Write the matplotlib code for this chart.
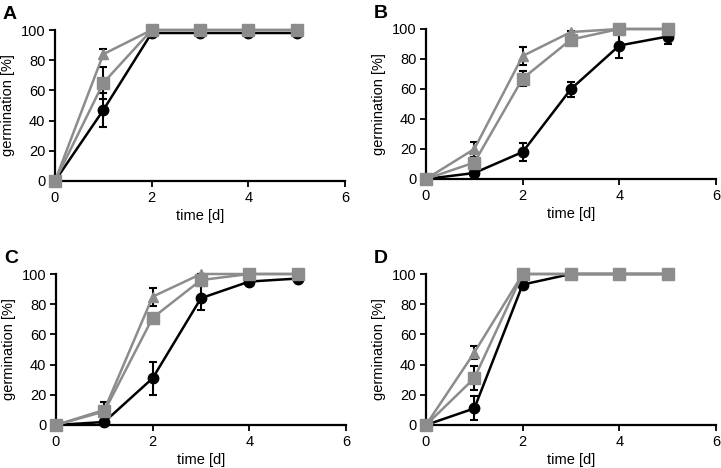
import numpy as np
import matplotlib.pyplot as plt

plt.rcParams['font.family'] = ['Liberation Sans', 'DejaVu Sans']

days = [0, 1, 2, 3, 4, 5]

# panel A
a_circ = [0, 47, 98, 98, 98, 98]
a_circ_err = [0, 11, 1, 1, 1, 1]
a_tri = [0, 84, 100, 100, 100, 100]
a_tri_err = [0, 3.5, 0, 0, 0, 0]
a_sq = [0, 65, 100, 100, 100, 100]
a_sq_err = [0, 10.5, 0, 0, 0, 0]

# panel B
b_circ = [0, 4, 18, 60, 89, 95]
b_circ_err = [0, 2, 6, 5, 8, 5]
b_tri = [0, 20, 82, 98, 100, 100]
b_tri_err = [0, 5, 6, 1, 0, 0]
b_sq = [0, 11, 67, 93, 100, 100]
b_sq_err = [0, 3, 5, 1, 0, 0]

# panel C
c_circ = [0, 2, 31, 84, 95, 97]
c_circ_err = [0, 1, 11, 8, 2, 1]
c_tri = [0, 10, 85, 100, 100, 100]
c_tri_err = [0, 5, 6, 0, 0, 0]
c_sq = [0, 9, 71, 96, 100, 100]
c_sq_err = [0, 2, 2, 3, 0, 0]

# panel D
d_circ = [0, 11, 93, 100, 100, 100]
d_circ_err = [0, 8, 3, 0, 0, 0]
d_tri = [0, 48, 100, 100, 100, 100]
d_tri_err = [0, 4, 0, 0, 0, 0]
d_sq = [0, 31, 100, 100, 100, 100]
d_sq_err = [0, 8, 0, 0, 0, 0]

panels = [
    ('A', a_circ, a_circ_err, a_tri, a_tri_err, a_sq, a_sq_err),
    ('B', b_circ, b_circ_err, b_tri, b_tri_err, b_sq, b_sq_err),
    ('C', c_circ, c_circ_err, c_tri, c_tri_err, c_sq, c_sq_err),
    ('D', d_circ, d_circ_err, d_tri, d_tri_err, d_sq, d_sq_err),
]

W, H = 721, 468
# axes boxes in pixels: left, top(y=100), right(x=6), bottom(y=0)
boxes = [(55, 30, 345, 181), (426, 29, 716, 179),
         (56, 274, 346, 425), (426, 274, 716, 425)]

grey = '#8c8c8c'
fig = plt.figure(figsize=(W / 100, H / 100), dpi=100)

for (lab, yc, ec, yt, et, ys, es), (l, t, r, b) in zip(panels, boxes):
    ax = fig.add_axes([l / W, 1 - b / H, (r - l) / W, (b - t) / H])
    for y, e, col, mk, ms in [(yc, ec, 'black', 'o', 7.5),
                              (yt, et, grey, '^', 7.5),
                              (ys, es, grey, 's', 8)]:
        ax.errorbar(days, y, yerr=e, color=col, ecolor='black', lw=1.8,
                    marker=mk, ms=ms, mec=col, capsize=3, capthick=1.5,
                    elinewidth=1.5, clip_on=False, zorder=3)
    ax.set_xlim(0, 6)
    ax.set_ylim(0, 100)
    ax.set_xticks([0, 2, 4, 6])
    ax.set_yticks([0, 20, 40, 60, 80, 100])
    ax.spines['top'].set_visible(False)
    ax.spines['right'].set_visible(False)
    for s in ['left', 'bottom']:
        ax.spines[s].set_linewidth(1.6)
    ax.tick_params(axis='x', direction='out', length=4, width=1.3, labelsize=10.5, pad=3)
    ax.tick_params(axis='y', direction='out', length=4, width=1.3, labelsize=10.5, pad=3)
    ax.set_xlabel('time [d]', fontsize=10.5, labelpad=3)
    ax.set_ylabel('germination [%]', fontsize=10.5, labelpad=4)
    ax.text(-0.18, 1.045, lab, transform=ax.transAxes, fontsize=14,
            fontweight='bold', ha='left', va='bottom')

fig.savefig('out.png', dpi=100)
